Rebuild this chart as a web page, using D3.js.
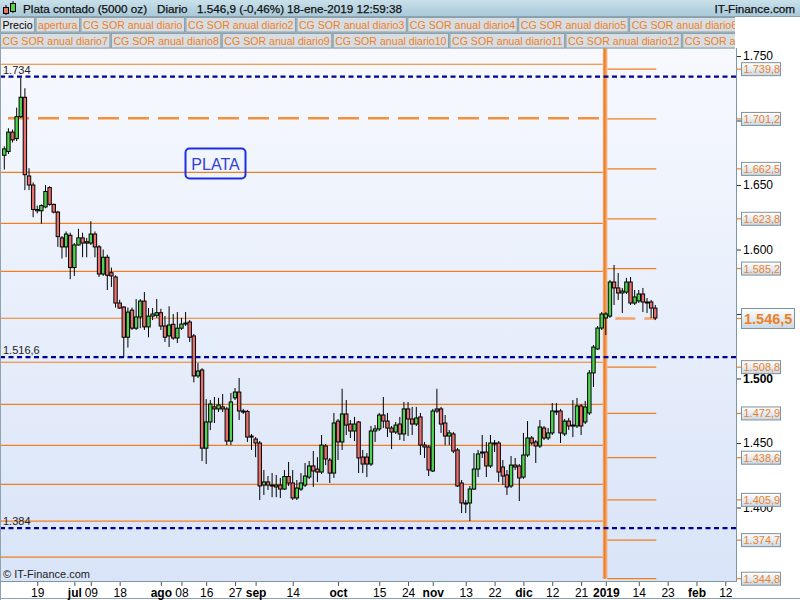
<!DOCTYPE html>
<html><head><meta charset="utf-8">
<script src="https://cdn.jsdelivr.net/npm/d3@7"></script>
<style>
html,body{margin:0;padding:0;background:#fff;}
svg text{font-family:"Liberation Sans",Arial,sans-serif;}
</style></head>
<body><svg id="c" width="800" height="600"></svg>
<script>
// ---------------- DATA ----------------
const firstDay = "2018-06-07";
const lastAxisDay = "2019-02-15";
const holidays = ["2018-07-04","2018-12-25","2019-01-01"];

const open = [1673,1676,1691,1686,1703,1718,1657,1650,1631,1630,
1633,1648,1635,1629,1609,1602,1611,1586,1603.5,1609,
1606,1605,1612,1602,1581,1594,1582,1578.7,1558.5,1555.4,
1532,1553,1539,1547.7,1560,1540,1548.4,1549,1551,1540.7,
1533,1542,1531.4,1539,1542.2,1543.8,1533,1502,1506.6,1446,
1466.3,1478,1476.4,1478,1476.4,1451.5,1485,1489.5,1474.8,1474.5,
1455.4,1453.1,1450,1417.4,1419.8,1417.4,1415.9,1417.4,1414.3,1424,
1419,1407.4,1414.3,1417.4,1423.6,1432.2,1429.8,1427.5,1447.7,1436.8,
1426.7,1467,1450.8,1472.5,1464.7,1459.3,1466.3,1439.1,1439.1,1433.7,
1459.3,1460.9,1471.7,1467,1461.6,1458.5,1464.7,1457,1476.4,1468.6,
1464.7,1470.2,1448.4,1446.9,1428.3,1476.4,1476.4,1465.5,1455.4,1457,
1444.6,1419,1403.5,1403.5,1414.3,1429.8,1443,1443,1432.2,1449.2,
1450,1431.4,1425.2,1416.7,1432.9,1432.2,1423.6,1440.7,1453.9,1450.8,
1447.7,1461.6,1453.9,1457.8,1474.8,1474.8,1457,1467,1463.9,1463.2,
1478.7,1466.3,1473.3,1504.3,1522.9,1539.1,1546.9,1548.4,1574.8,1570.2,
1566.3,1567,1574.8,1558.5,1560.1,1565.5,1559.3,1559.3,1554.6];

const high = [1680,1694,1693,1710,1733,1725,1663,1652,1634,1635,
1650,1649,1635.5,1630,1610.5,1614,1613,1605,1616,1613,
1609,1622,1614,1603.5,1600,1596,1586,1580,1561,1556,
1555,1555,1561.6,1561.6,1567,1554.6,1554.6,1561.6,1554,1548.4,
1556,1550,1551.5,1547,1551.5,1545.3,1534.5,1512,1508,1484,
1483.3,1485.7,1485,1488,1478,1488.8,1492.6,1500.4,1476.4,1475.6,
1457,1454.6,1451.5,1429,1424.4,1426.7,1425.2,1422.9,1429,1435.3,
1429,1421.3,1426.7,1434.5,1436,1443.8,1439,1456.2,1449.2,1438.4,
1473.3,1468.6,1492,1483.3,1467.8,1470.2,1467,1444.6,1442.2,1463.2,
1463.9,1473.3,1485.7,1473.3,1463.2,1466.3,1470.2,1481.8,1481.8,1478,
1478,1473.3,1450.8,1448.4,1476.4,1492,1478,1471.7,1460.1,1458.5,
1446.1,1421.3,1405.8,1416.7,1442.2,1444.6,1456.2,1450.8,1456.2,1452.3,
1451.5,1436.8,1429.1,1439.9,1438.4,1433.7,1457.8,1467,1455.4,1452.3,
1467.8,1463.2,1461.6,1481,1481,1476.4,1468.6,1469.4,1483.3,1484.9,
1480.2,1482.6,1506.6,1526,1540.7,1551.5,1551.5,1576.4,1588,1581.8,
1570.2,1578,1578.7,1568.6,1568.6,1570.2,1562.4,1560.9,1557];

const low = [1662,1674,1683,1684,1702,1646,1646,1625,1628,1620,
1632,1634,1628,1602,1593,1594,1577,1579.5,1603,1594,
1594,1603.5,1594,1578.7,1579.5,1568.6,1571,1555,1554,1516.8,
1524,1537.6,1537.6,1539,1537.6,1532,1545.3,1547,1537.6,1528.3,
1524.4,1530,1527.5,1537.6,1540.7,1528.3,1497,1500.4,1436,1433.7,
1460,1465.5,1474,1474,1448.4,1448.4,1483.3,1467.8,1472.5,1450.8,
1444.6,1439,1405.8,1409.7,1413.6,1408,1408,1407.4,1413.6,1416.7,
1405.8,1405.8,1412.8,1415.9,1422,1416,1419.8,1426,1432.9,1419,
1422.9,1436.8,1444.6,1456.2,1453.9,1451.5,1426.7,1426.7,1423.6,1432.2,
1450.8,1459.3,1461.6,1454.6,1445.3,1457,1452.3,1451.5,1455.4,1456.2,
1463.2,1440.7,1438.4,1424.4,1427.5,1473.3,1457.8,1448.4,1448.4,1442.2,
1415.9,1395.7,1395.7,1389.5,1413.6,1423.6,1438.4,1423.6,1430.6,1443,
1419.8,1417.4,1409.7,1415.1,1429.1,1405,1422.1,1439.1,1448.4,1434.5,
1446.1,1452.3,1452.3,1456.2,1471.7,1450,1455.4,1460.1,1454.6,1461.6,
1456.2,1464.7,1471.7,1493.4,1522.1,1537.6,1533.7,1546.9,1557,1560.9,
1550.8,1565.5,1557,1557,1558.5,1551.5,1550.8,1546.9,1545.3];

const close = [1678,1691,1685,1703,1718,1658,1650,1631,1630,1634,
1645,1635,1629,1610,1602,1612,1586,1603.5,1609,1605,
1605,1612,1602,1581,1594,1580,1579.5,1558.5,1554.6,1532,
1551.5,1539,1547.7,1560,1540,1548.4,1550,1551,1540.7,1532,
1541.5,1531.4,1539,1542.2,1543,1532,1502,1505.8,1446,1466.3,
1480.2,1476.4,1479.5,1476.4,1451.5,1481.8,1489.5,1474.8,1474,1454.6,
1454.6,1450,1416.7,1419.8,1417.4,1416.7,1417.4,1414.3,1424,1419,
1407.4,1415.1,1419,1424.4,1432.2,1428.3,1427.5,1448.4,1437.6,1426.7,
1465.5,1450.8,1472.5,1463.9,1459.3,1464.7,1438.4,1433.7,1433.7,1459.3,
1460.9,1471.7,1467,1461.6,1458.5,1463.9,1457,1476.4,1468.6,1464.7,
1469.4,1448.4,1446.9,1429.1,1474.8,1474.8,1464.7,1455.4,1457.8,1443.8,
1416.7,1403.5,1402.7,1414.3,1429.8,1441.5,1442.2,1432.2,1450,1450,
1427.5,1424.4,1415.9,1432.9,1431.4,1422.9,1440.7,1453.9,1450,1447.7,
1462.4,1453.9,1457.8,1474.8,1474,1457.8,1467,1463.2,1463.2,1478.7,
1463.2,1477.9,1504.3,1524.4,1539.1,1550,1550,1574.8,1570.2,1566.3,
1567.8,1574.8,1558.5,1563.2,1565.5,1559.3,1558.5,1554.6,1546.9];

// annual levels ("CG SOR anual diario" series)
const levels2018 = [1743.6,1701.7,1659.8,1620.3,1583.1,1546.7,1512.6,1480,1448.2,1418,1389.5,1361.6];
const levels2019 = [1739.8,1701.2,1662.5,1623.8,1585.2,1546.5,1508.8,1472.9,1438.6,1405.9,1374.7,1344.8];
const pivot2018 = 1701.7;
const pivot2019 = 1546.5;
const yearBreak = "2019-01-02";
const levelEndDay = "2019-01-18";

const blueLevels = [1734, 1516.6, 1384];

const yTicks = [1400,1450,1500,1550,1600,1650,1700,1750];
const yBoldTicks = [1500];

const xTickDates = ["2018-06-19","2018-07-02","2018-07-09","2018-07-18","2018-08-01","2018-08-08","2018-08-16","2018-08-27",
"2018-09-03","2018-09-14","2018-10-01","2018-10-15","2018-10-24","2018-11-01","2018-11-13","2018-11-22","2018-12-03",
"2018-12-12","2018-12-21","2019-01-02","2019-01-14","2019-01-23","2019-02-01","2019-02-12"];
const xTickLabels = ["19","jul","09","18","ago","08","16","27","sep","14","oct","15","24","nov","13","22","dic","12","21","2019","14","23","feb","12"];
const xBoldLabels = ["jul","ago","sep","oct","nov","dic","2019","feb"];

const headerTitle = "Plata contado (5000 oz)";
const headerPeriod = "Diario";
const headerPrice = "1.546,9 (-0,46%)";
const headerDate = "18-ene-2019 12:59:38";
const brand = "IT-Finance.com";
const legendRow1 = ["Precio","apertura","CG SOR anual diario","CG SOR anual diario2","CG SOR anual diario3","CG SOR anual diario4","CG SOR anual diario5","CG SOR anual diario6"];
const legendRow2 = ["CG SOR anual diario7","CG SOR anual diario8","CG SOR anual diario9","CG SOR anual diario10","CG SOR anual diario11","CG SOR anual diario12","CG SOR anual diario13"];
const plotLabel = "PLATA";

// ---------------- BUILD ----------------
const svg = d3.select("#c");
const W = 800, H = 600;
const P = {left:0, right:736, top:48, bottom:581};
const ORANGE = "#f07f1e";

const parse = d3.timeParse("%Y-%m-%d");
const fmtDay = d3.timeFormat("%Y-%m-%d");
const hol = new Set(holidays);
const days = d3.timeDay.range(parse(firstDay), d3.timeDay.offset(parse(lastAxisDay),1))
  .filter(d => d.getDay() > 0 && d.getDay() < 6 && !hol.has(fmtDay(d)));
const idxOf = new Map(days.map((d,i)=>[fmtDay(d), i]));

const candles = open.map((o,i)=>({i, o, h:high[i], l:low[i], c:close[i]}));

const x = d3.scaleLinear().domain([0, idxOf.get("2019-02-12")]).range([4.3, 4.3 + idxOf.get("2019-02-12")*4.12]);
const y = d3.scaleLinear().domain([1400, 1750]).range([507.5, 56]);

const loc = d3.formatLocale({decimal:",", thousands:".", grouping:[3], currency:["",""]});
const f0 = loc.format(",.0f"), f1 = loc.format(",.1f");

const defs = svg.append("defs");
const gPlot = defs.append("linearGradient").attr("id","gPlot").attr("x1",0).attr("y1",0).attr("x2",0).attr("y2",1);
gPlot.append("stop").attr("offset","0%").attr("stop-color","#f7f9fe");
gPlot.append("stop").attr("offset","100%").attr("stop-color","#d9e4f8");
const gHead = defs.append("linearGradient").attr("id","gHead").attr("x1",0).attr("y1",0).attr("x2",0).attr("y2",1);
gHead.append("stop").attr("offset","0%").attr("stop-color","#c9e0ea");
gHead.append("stop").attr("offset","100%").attr("stop-color","#a8c8d8");
const gBox = defs.append("linearGradient").attr("id","gBox").attr("x1",0).attr("y1",0).attr("x2",0).attr("y2",1);
gBox.append("stop").attr("offset","0%").attr("stop-color","#ffffff");
gBox.append("stop").attr("offset","100%").attr("stop-color","#c9d8e6");
defs.append("clipPath").attr("id","clipPlot").append("rect")
  .attr("x",P.left).attr("y",P.top).attr("width",P.right-P.left).attr("height",P.bottom-P.top);
defs.append("clipPath").attr("id","clipLeg").append("rect")
  .attr("x",0).attr("y",16).attr("width",735).attr("height",33);

svg.append("rect").attr("width",W).attr("height",H).attr("fill","#fff");
svg.append("rect").attr("x",P.left).attr("y",P.top).attr("width",P.right-P.left).attr("height",P.bottom-P.top).attr("fill","url(#gPlot)");

const plot = svg.append("g").attr("clip-path","url(#clipPlot)");

// level lines
const xBreak = x(idxOf.get(yearBreak));
const xEnd = x(idxOf.get(levelEndDay));
const L = plot.append("g");
L.selectAll("line.l18").data(levels2018.filter(v=>v!==pivot2018)).join("line")
  .attr("x1",P.left).attr("x2",xBreak-3).attr("y1",d=>y(d)).attr("y2",d=>y(d))
  .attr("stroke",ORANGE).attr("stroke-width",1.2);
L.append("line").attr("x1",P.left).attr("x2",xBreak-3).attr("y1",y(pivot2018)).attr("y2",y(pivot2018))
  .attr("stroke","#f3903a").attr("stroke-width",2.6).attr("stroke-dasharray","21,9").attr("stroke-dashoffset",-8);
L.selectAll("line.l19").data(levels2019.filter(v=>v!==pivot2019)).join("line")
  .attr("x1",xBreak+1.5).attr("x2",xEnd+1).attr("y1",d=>y(d)).attr("y2",d=>y(d))
  .attr("stroke",ORANGE).attr("stroke-width",1.2);
L.append("line").attr("x1",xBreak+1.5).attr("x2",xEnd+1).attr("y1",y(pivot2019)).attr("y2",y(pivot2019))
  .attr("stroke","#f4a468").attr("stroke-width",2.6).attr("stroke-dasharray","20,9").attr("stroke-dashoffset",-8);
L.append("rect").attr("x",xBreak-3).attr("y",P.top).attr("width",4.5).attr("height",y(d3.min(levels2019))-P.top)
  .attr("fill","#f3a060").attr("opacity",0.9);
L.append("line").attr("x1",xBreak-1.2).attr("x2",xBreak-1.2).attr("y1",P.top).attr("y2",y(d3.min(levels2019)))
  .attr("stroke","#ef7d20").attr("stroke-width",1.6);

// candles
const C = plot.append("g");
const bw = 3.4;
C.selectAll("line.w").data(candles).join("line")
  .attr("x1",d=>x(d.i)).attr("x2",d=>x(d.i)).attr("y1",d=>y(d.h)).attr("y2",d=>y(d.l))
  .attr("stroke","#000").attr("stroke-width",1);
C.selectAll("rect.b").data(candles).join("rect")
  .attr("x",d=>x(d.i)-bw/2).attr("width",bw)
  .attr("y",d=>y(Math.max(d.o,d.c)))
  .attr("height",d=>Math.max(1, Math.abs(y(d.o)-y(d.c))))
  .attr("fill",d=>d.c>=d.o ? "#4fd44f" : "#e8706c")
  .attr("stroke","#000").attr("stroke-width",1);

// blue dashed levels
plot.selectAll("line.bl").data(blueLevels).join("line")
  .attr("x1",P.left).attr("x2",P.right).attr("y1",d=>y(d)).attr("y2",d=>y(d))
  .attr("stroke","#000099").attr("stroke-width",2.4).attr("stroke-dasharray","5,3.5");
plot.selectAll("text.bl").data(blueLevels).join("text")
  .attr("x",3).attr("y",d=>y(d)-3).attr("font-size",11).attr("fill","#222")
  .text(d=>Number.isInteger(d)?f0(d):f1(d));

// PLATA box
plot.append("rect").attr("x",185.5).attr("y",148.5).attr("width",60).attr("height",30).attr("rx",4)
  .attr("fill","none").attr("stroke","#1f2fe0").attr("stroke-width",2);
plot.append("text").attr("x",215.5).attr("y",170).attr("text-anchor","middle").attr("font-size",16)
  .attr("fill","#3040d0").text(plotLabel);

plot.append("text").attr("x",3).attr("y",578).attr("font-size",11).attr("fill","#222").text("\u00A9 " + brand);

// borders
svg.append("line").attr("x1",P.right+0.5).attr("x2",P.right+0.5).attr("y1",P.top).attr("y2",P.bottom).attr("stroke","#7f96a3");
svg.append("line").attr("x1",0.5).attr("x2",0.5).attr("y1",P.top).attr("y2",H).attr("stroke","#8ea3ae");
svg.append("line").attr("x1",0).attr("x2",P.right+1).attr("y1",P.bottom+0.5).attr("y2",P.bottom+0.5).attr("stroke","#7f96a3");
svg.append("line").attr("x1",0).attr("x2",W).attr("y1",H-1.5).attr("y2",H-1.5).attr("stroke","#8ea3ae");

// right axis
const yAxis = svg.append("g").attr("transform",`translate(${P.right+1},0)`)
  .call(d3.axisRight(y).tickValues(yTicks).tickSize(4).tickPadding(2).tickFormat(f0));
yAxis.select(".domain").remove();
yAxis.selectAll("text").attr("font-size",12).attr("fill","#000").attr("font-family","Liberation Sans, Arial, sans-serif")
  .attr("font-weight",d=>yBoldTicks.includes(d)?"bold":"normal");
yAxis.selectAll("line").attr("stroke","#333");

// level value boxes on right axis
const boxG = svg.append("g");
levels2019.forEach(v=>{
  const yy = y(v);
  const big = v===pivot2019;
  boxG.append("line").attr("x1",P.right+1).attr("x2",P.right+6).attr("y1",yy).attr("y2",yy).attr("stroke",ORANGE).attr("stroke-width",1.2);
  const bh = big?20:13, bwid = big?53:39;
  boxG.append("rect").attr("x",741.5).attr("y",yy-bh/2).attr("width",bwid).attr("height",bh)
    .attr("fill","url(#gBox)").attr("stroke","#7d939f").attr("stroke-width",1);
  boxG.append("text").attr("x",big?744:743.5).attr("y",yy+(big?5.5:4))
    .attr("font-size",big?14.5:11).attr("font-weight",big?"bold":"normal").attr("fill",ORANGE).text(f1(v));
});

// x axis
const xAxis = svg.append("g").attr("transform",`translate(0,${P.bottom+1})`)
  .call(d3.axisBottom(x).tickValues(xTickDates.map(d=>idxOf.get(d))).tickSize(4).tickPadding(2)
    .tickFormat((d,i)=>xTickLabels[i]));
xAxis.select(".domain").remove();
xAxis.selectAll("line").attr("stroke","#555");
xAxis.selectAll("text").attr("font-size",12).attr("fill","#000").attr("font-family","Liberation Sans, Arial, sans-serif")
  .attr("font-weight",(d,i)=>xBoldLabels.includes(xTickLabels[i])?"bold":"normal");

// header
svg.append("rect").attr("x",0).attr("y",0).attr("width",W).attr("height",16.5).attr("fill","url(#gHead)");
svg.append("line").attr("x1",0).attr("x2",W).attr("y1",16.5).attr("y2",16.5).attr("stroke","#8aa4b0");
svg.append("line").attr("x1",6).attr("x2",6).attr("y1",5).attr("y2",15).attr("stroke","#000");
svg.append("rect").attr("x",3.5).attr("y",7.5).attr("width",5).attr("height",6).attr("fill","#e8706c").attr("stroke","#000");
svg.append("line").attr("x1",13).attr("x2",13).attr("y1",1).attr("y2",13).attr("stroke","#000");
svg.append("rect").attr("x",10.5).attr("y",3.5).attr("width",5).attr("height",8).attr("fill","#4fd44f").attr("stroke","#000");
const ht = svg.append("g").attr("font-size",11.7).attr("fill","#111").attr("stroke","#111").attr("stroke-width",0.25);
ht.append("text").attr("x",23).attr("y",13).text(headerTitle);
ht.append("text").attr("x",157).attr("y",13).text(headerPeriod);
ht.append("text").attr("x",197).attr("y",13).text(headerPrice);
ht.append("text").attr("x",287).attr("y",13).text(headerDate);
ht.append("text").attr("x",795).attr("y",13).attr("text-anchor","end").text(brand);

// legend rows
const leg = svg.append("g").attr("clip-path","url(#clipLeg)");
leg.append("rect").attr("x",0).attr("y",17).attr("width",735).attr("height",31.5).attr("fill","#a9bcc6");
function legendRow(items, y0){
  let cx = 0.5;
  items.forEach((t,k)=>{
    const g = leg.append("g");
    const r = g.append("rect").attr("y",y0).attr("height",14.5).attr("fill", t==="Precio" ? "#dde4ea" : "#d6dee4")
      .attr("stroke","#8ba0ab").attr("stroke-width",1);
    const tx = g.append("text").attr("x",cx+2).attr("y",y0+11.5).attr("font-size",10.6)
      .attr("fill", t==="Precio" ? "#000" : ORANGE).text(t);
    const w = tx.node().getComputedTextLength() + 4;
    r.attr("x",cx).attr("width",w);
    cx += w + 1.5;
  });
}
legendRow(legendRow1, 17.5);
legendRow(legendRow2, 33.5);
</script></body></html>
